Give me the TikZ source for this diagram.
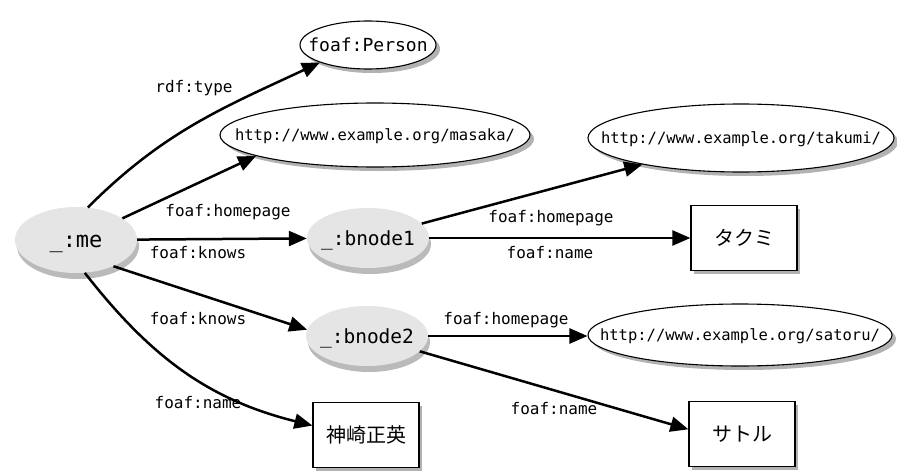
\documentclass[tikz,border=0pt]{standalone}
\usepackage{fontspec}
\setmonofont{DejaVu Sans Mono}
\newfontfamily\jpfont{Noto Sans CJK JP}
\usetikzlibrary{arrows.meta,shapes.geometric,shadows}
\newcommand{\ztext}[1]{\raisebox{-0.36em}[0pt][0pt]{\makebox[0pt]{#1}}}
\tikzset{
  lbl/.style={font=\ttfamily\fontsize{16}{18}\selectfont, inner sep=0pt},
  bnode/.style={ellipse, fill=black!10, inner sep=0pt, minimum width=122pt, minimum height=60pt,
    font=\ttfamily\fontsize{19.5}{22}\selectfont,
    general shadow={fill=black!27, shadow xshift=2pt, shadow yshift=-6pt}},
  uri/.style={ellipse, draw, line width=1.1pt, fill=white, inner sep=0pt,
    font=\ttfamily\fontsize{15.5}{18}\selectfont,
    general shadow={fill=black!30, shadow xshift=4pt, shadow yshift=-4pt}},
  lit/.style={rectangle, draw, line width=1.2pt, fill=white, inner sep=0pt,
    minimum width=106pt, minimum height=65pt,
    font=\jpfont\fontsize{20}{22}\selectfont,
    general shadow={fill=black!30, shadow xshift=3pt, shadow yshift=-3pt}},
  arr/.style={line width=2.5pt, -{Triangle[length=18pt,width=15pt]}},
}
\begin{document}
\begin{tikzpicture}[x=1pt,y=1pt]
\useasboundingbox[fill=white] (0,0) rectangle (897,-471);
% nodes
\node[bnode, minimum width=122pt, minimum height=66pt, font=\ttfamily\fontsize{22}{24}\selectfont] (me) at (76,-240) {\ztext{\_:me}};
\node[bnode] (b1) at (368,-238) {\ztext{\_:bnode1}};
\node[bnode] (b2) at (367,-336) {\ztext{\_:bnode2}};
\node[uri, minimum width=136pt, minimum height=48pt, font=\ttfamily\fontsize{18}{20}\selectfont] (person) at (368,-45) {\ztext{foaf:Person}};
\node[uri, minimum width=310pt, minimum height=64pt] (masaka) at (375,-135) {\ztext{http://www.example.org/masaka/}};
\node[uri, minimum width=306pt, minimum height=68pt] (takumi) at (741,-138) {\ztext{http://www.example.org/takumi/}};
\node[uri, minimum width=304pt, minimum height=62pt] (satoru) at (740,-335) {\ztext{http://www.example.org/satoru/}};
\node[lit] (takumiL) at (744,-238) {タクミ};
\node[lit] (kanzaki) at (366,-435) {神崎正英};
\node[lit] (satoruL) at (742,-434) {サトル};
% edges
\draw[arr] (me.70) to[out=45,in=205] (person.200);
\draw[arr] (me) -- (masaka.190);
\draw[arr] (me) -- (b1);
\draw[arr] (me.-35) -- (b2.174);
\draw[arr] (me.-75) to[out=-52,in=166] (kanzaki.170);
\draw[arr] (b1) -- (takumi.195);
\draw[arr] (b1) -- (b1 -| takumiL.west);
\draw[arr] (b2) -- (b2 -| satoru.west);
\draw[arr] (b2) -- (satoruL.175);
% labels
\node[lbl] (l1) at (194,-88) {rdf:type};
\node[lbl] (l2) at (228,-212) {foaf:homepage};
\node[lbl] (l3) at (198,-253) {foaf:knows};
\node[lbl] (l4) at (198,-319) {foaf:knows};
\node[lbl] (l5) at (198,-403) {foaf:name};
\node[lbl] (l6) at (551,-218) {foaf:homepage};
\node[lbl] (l7) at (550,-253) {foaf:name};
\node[lbl] (l8) at (506,-320) {foaf:homepage};
\node[lbl] (l9) at (554,-409) {foaf:name};
\end{tikzpicture}
\end{document}
